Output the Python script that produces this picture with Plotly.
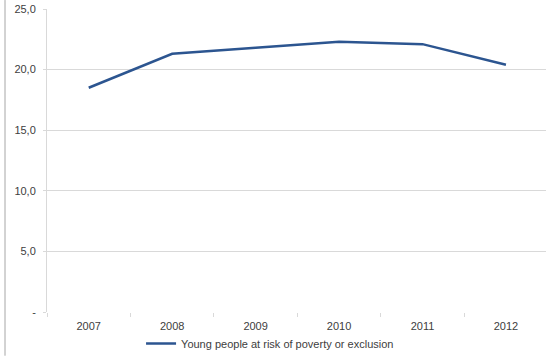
import plotly.graph_objects as go

years = ["2007", "2008", "2009", "2010", "2011", "2012"]
values = [18.5, 21.3, 21.8, 22.3, 22.1, 20.4]
series_name = "Young people at risk of poverty or exclusion"
y_tickvals = [0, 5, 10, 15, 20, 25]
y_ticktext = ["-", "5,0", "10,0", "15,0", "20,0", "25,0"]

fig = go.Figure()
fig.add_trace(go.Scatter(
    x=years, y=values, mode="lines", name=series_name,
    line=dict(color="#2c5590", width=2.5),
))

fig.update_layout(
    width=546, height=358,
    margin=dict(l=47, r=0, t=9, b=44),
    paper_bgcolor="white", plot_bgcolor="white",
    font=dict(family="Liberation Sans, Arial, sans-serif", size=11, color="#404040"),
    showlegend=True,
    legend=dict(orientation="h", x=0.447, xanchor="center", y=-0.105, yanchor="middle",
                bgcolor="rgba(0,0,0,0)",
                font=dict(size=11, color="#404040"), itemwidth=30),
    xaxis=dict(type="category", range=[-0.5, 5.48], showgrid=False,
               showline=False, tickson="boundaries", ticks="outside",
               ticklen=4, tickcolor="#d9d9d9", zeroline=False,
               ticklabelstandoff=6,
               tickfont=dict(size=11, color="#404040")),
    yaxis=dict(range=[0, 25], tickvals=y_tickvals, ticktext=y_ticktext,
               showgrid=True, gridcolor="#d9d9d9", gridwidth=1,
               showline=True, linecolor="#d9d9d9", linewidth=1,
               ticks="outside", ticklen=3, tickcolor="#d9d9d9",
               ticklabelstandoff=5, ticklabeloverflow="allow",
               zeroline=False, tickfont=dict(size=11, color="#404040")),
    shapes=[dict(type="line", xref="paper", yref="paper",
                 x0=-42/499, x1=-42/499, y0=-44/305, y1=1 + 9/305,
                 line=dict(color="#a6a6a6", width=1))],
)

fig.write_html("out.html",
               config={"displayModeBar": False},
               post_script="document.body.style.margin='0';document.body.style.overflow='hidden';")
